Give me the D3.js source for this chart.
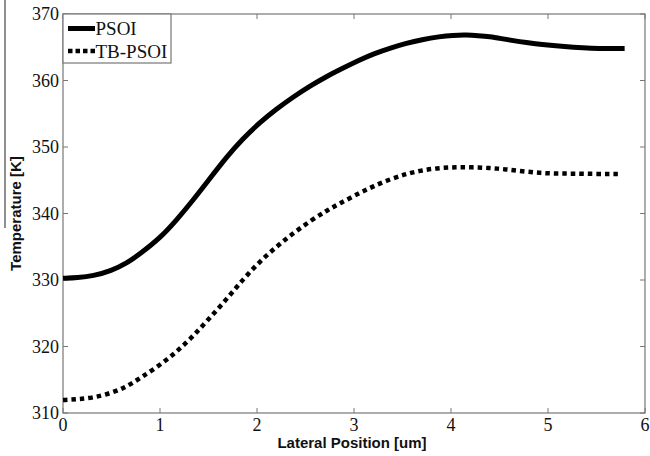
<!DOCTYPE html>
<html><head><meta charset="utf-8">
<script src="https://cdn.jsdelivr.net/npm/d3@7"></script>
<style>body{margin:0;background:#fff}svg{display:block}</style>
</head><body>
<svg id="c" width="650" height="456"></svg>
<script>
const xTicks = [0,1,2,3,4,5,6];
const yTicks = [310,320,330,340,350,360,370];
const seriesNames = ["PSOI","TB-PSOI"];
const psoiX = [0,0.15,0.31,0.5,0.656,0.8,1.0,1.17,1.34,1.5,1.686,1.85,2.03,2.2,2.37,2.55,2.716,2.85,3.06,3.2,3.38,3.54,3.7,3.88,4.02,4.16,4.28,4.4,4.52,4.64,4.78,4.91,5.08,5.26,5.45,5.62,5.79];
const psoiY = [330.25,330.35,330.6,331.4,332.5,334.0,336.3,339.0,342.0,345.0,348.5,351.2,353.7,355.7,357.5,359.2,360.6,361.6,363.1,364.0,364.9,365.6,366.15,366.6,366.8,366.85,366.75,366.6,366.3,366.0,365.7,365.45,365.2,365.0,364.85,364.8,364.8];
const tbX = [0,0.15,0.31,0.5,0.656,0.8,1.0,1.17,1.34,1.5,1.686,1.85,2.03,2.2,2.37,2.55,2.716,2.85,3.06,3.2,3.38,3.54,3.7,3.88,4.05,4.22,4.4,4.56,4.74,4.91,5.08,5.26,5.5,5.75];
const tbY = [311.95,312.05,312.3,313.0,313.95,315.3,317.2,319.2,321.5,324.1,327.1,330.0,332.8,335.0,337.0,338.9,340.4,341.5,343.1,344.1,345.2,345.95,346.5,346.85,346.97,346.95,346.85,346.65,346.35,346.1,346.0,346.0,345.95,345.95];

const svg = d3.select("#c");
const L=63, R=645, T=14, B=413;
const x = d3.scaleLinear().domain([0,6]).range([L,R]);
const y = d3.scaleLinear().domain([310,370]).range([B,T]);
const axisCol = "#777";

// scan artifact line at far left
svg.append("line").attr("x1",5).attr("x2",5).attr("y1",0).attr("y2",228).attr("stroke","#444").attr("stroke-width",1.2);

// box
svg.append("rect").attr("x",L).attr("y",T).attr("width",R-L).attr("height",B-T).attr("fill","none").attr("stroke",axisCol).attr("stroke-width",1.2);

const tk = 5;
const g = svg.append("g");
xTicks.forEach(v=>{
  g.append("line").attr("x1",x(v)).attr("x2",x(v)).attr("y1",B).attr("y2",B-tk).attr("stroke",axisCol);
  g.append("line").attr("x1",x(v)).attr("x2",x(v)).attr("y1",T).attr("y2",T+tk).attr("stroke",axisCol);
  g.append("text").attr("x",x(v)).attr("y",431).attr("text-anchor","middle")
   .attr("font-family","Liberation Serif, Times New Roman, serif").attr("font-size",18).attr("fill","#111").text(v);
});
yTicks.forEach(v=>{
  g.append("line").attr("x1",L).attr("x2",L+tk).attr("y1",y(v)).attr("y2",y(v)).attr("stroke",axisCol);
  g.append("line").attr("x1",R).attr("x2",R-tk).attr("y1",y(v)).attr("y2",y(v)).attr("stroke",axisCol);
  g.append("text").attr("x",L-4).attr("y",y(v)+6).attr("text-anchor","end")
   .attr("font-family","Liberation Serif, Times New Roman, serif").attr("font-size",18).attr("fill","#111").text(v);
});

// axis labels
svg.append("text").attr("x",(L+R)/2 - 2).attr("y",448).attr("text-anchor","middle")
  .attr("font-family","Liberation Sans, Arial, sans-serif").attr("font-weight","bold").attr("font-size",15).attr("fill","#111")
  .text("Lateral Position [um]");
svg.append("text").attr("transform",`translate(21,${(T+B)/2}) rotate(-90)`).attr("text-anchor","middle")
  .attr("font-family","Liberation Sans, Arial, sans-serif").attr("font-weight","bold").attr("font-size",15).attr("fill","#111")
  .text("Temperature [K]");

const line = d3.line().x(d=>x(d[0])).y(d=>y(d[1])).curve(d3.curveBasis);
const psoi = psoiX.map((v,i)=>[v,psoiY[i]]);
const tb = tbX.map((v,i)=>[v,tbY[i]]);
svg.append("path").attr("d",line(psoi)).attr("fill","none").attr("stroke","#000").attr("stroke-width",5);
svg.append("path").attr("d",line(tb)).attr("fill","none").attr("stroke","#000").attr("stroke-width",4.5).attr("stroke-dasharray","4.5,4");

// legend
const lg = svg.append("g");
lg.append("rect").attr("x",L).attr("y",T).attr("width",108).attr("height",49).attr("fill","#fff").attr("stroke",axisCol).attr("stroke-width",1.2);
lg.append("line").attr("x1",68).attr("x2",95).attr("y1",28.5).attr("y2",28.5).attr("stroke","#000").attr("stroke-width",5);
lg.append("line").attr("x1",68).attr("x2",95).attr("y1",51).attr("y2",51).attr("stroke","#000").attr("stroke-width",4.5).attr("stroke-dasharray","4.5,3");
lg.append("text").attr("x",95.5).attr("y",35).attr("font-family","Liberation Serif, Times New Roman, serif").attr("font-size",19).attr("fill","#111").text(seriesNames[0]);
lg.append("text").attr("x",95.5).attr("y",58).attr("font-family","Liberation Serif, Times New Roman, serif").attr("font-size",19).attr("fill","#111").text(seriesNames[1]);
</script>
</body></html>
